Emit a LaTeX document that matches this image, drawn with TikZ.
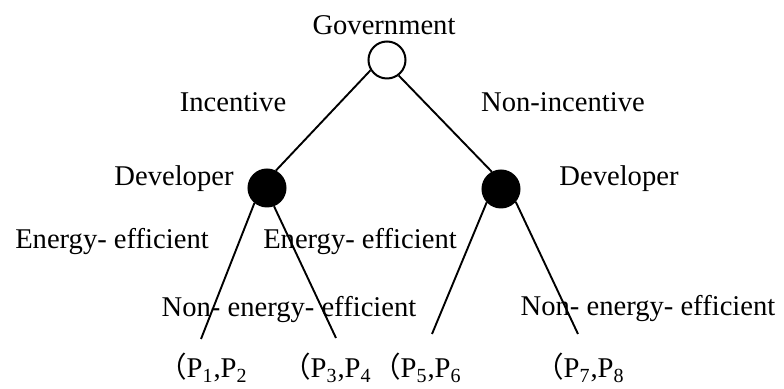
\documentclass[tikz,border=0pt]{standalone}
\usepackage{fontspec}
\setmainfont{Liberation Serif}
\newfontfamily\cjk{Noto Sans CJK SC}
\begin{document}
\begin{tikzpicture}[x=0.5pt,y=-0.5pt,
  lbl/.style={font=\fontsize{14.3pt}{16pt}\selectfont, inner sep=0pt, anchor=base},
  pay/.style={font=\fontsize{14.3pt}{16pt}\selectfont, inner sep=0pt, anchor=base east},
  chance/.style={circle, draw, line width=1pt, fill=white, minimum size=18.5pt, inner sep=0pt},
  decide/.style={circle, draw, line width=1pt, fill=black, minimum size=18.5pt, inner sep=0pt},
  branch/.style={line width=0.95pt}]
\useasboundingbox (0,0) rectangle (784,389);
% nodes
\node[chance] (gov) at (387,60) {};
\node[decide] (devL) at (267,188) {};
\node[decide] (devR) at (501,189) {};
\coordinate (l1) at (201,339);
\coordinate (l2) at (336,338);
\coordinate (l3) at (432,334);
\coordinate (l4) at (578,334);
% connectors
\draw[branch] (gov.212) -- (devL.63);
\draw[branch] (gov.307) -- (devR.118);
\draw[branch] (devL.230) -- (l1);
\draw[branch] (devL.291) -- (l2);
\draw[branch] (devR.223) -- (l3);
\draw[branch] (devR.319) -- (l4);
% labels
\node[lbl] (tgov) at (384,35) {Government};
\node[lbl] (tinc) at (233,112) {Incentive};
\node[lbl] (tninc) at (563,112) {Non-incentive};
\node[lbl] (tdevL) at (174,186) {Developer};
\node[lbl] (tdevR) at (619,186) {Developer};
\node[lbl] (te1) at (112,249) {Energy- efficient};
\node[lbl] (te2) at (360,249) {Energy- efficient};
\node[lbl] (tn1) at (289,317) {Non- energy- efficient};
\node[lbl] (tn2) at (648,316) {Non- energy- efficient};
% payoffs
\node[pay] (p12) at (248,378) {{\cjk （}P\textsubscript{1},P\textsubscript{2}};
\node[pay] (p34) at (372,378) {{\cjk （}P\textsubscript{3},P\textsubscript{4}};
\node[pay] (p56) at (462,378) {{\cjk （}P\textsubscript{5},P\textsubscript{6}};
\node[pay] (p78) at (625,378) {{\cjk （}P\textsubscript{7},P\textsubscript{8}};
\end{tikzpicture}
\end{document}
